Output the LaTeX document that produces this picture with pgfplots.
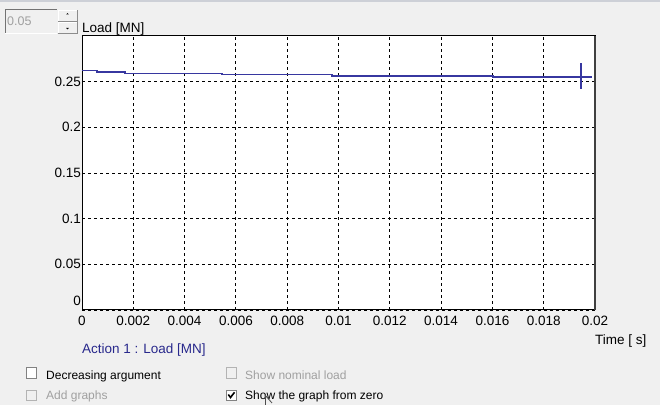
\documentclass[border=0pt]{standalone}
\usepackage{pgfplots}
\pgfplotsset{compat=1.18}
\usepackage{fontspec}
\setmainfont{Liberation Sans}
\definecolor{guibg}{RGB}{240,240,240}
\definecolor{plotblue}{RGB}{55,55,160}
\definecolor{navytext}{RGB}{40,40,140}
\definecolor{disgray}{RGB}{160,160,160}
\definecolor{boxgray}{RGB}{130,130,130}
\definecolor{topstrip}{RGB}{205,208,215}
\pgfplotstableread{
x y
0 0.2622
0.000585 0.2608
0.00168 0.2592
0.00546 0.2578
0.00975 0.2563
0.01602 0.2552
0.01988 0.2552
}\loadtable
\pgfplotstableread{
x y
0.01945 0.2422
0.01945 0.2700
}\cursortable
\begin{document}
\begin{tikzpicture}
\fill[guibg] (0,0) rectangle (660bp,405bp);
\begin{axis}[
  at={(82bp,95bp)}, anchor=south west,
  scale only axis, width=513bp, height=274bp,
  xmin=0, xmax=0.02, ymin=0, ymax=0.3,
  scaled x ticks=false, scaled y ticks=false,
  xtick={0,0.002,0.004,0.006,0.008,0.01,0.012,0.014,0.016,0.018,0.02},
  xticklabels={0,0.002,0.004,0.006,0.008,0.01,0.012,0.014,0.016,0.018,0.02},
  ytick={0,0.05,0.1,0.15,0.2,0.25},
  yticklabels={\raisebox{18bp}{0},0.05,0.1,0.15,0.2,0.25},
  major tick length=0pt,
  grid=major,
  major grid style={black, line width=0.9bp, dash pattern=on 3bp off 3bp},
  axis line style={black, line width=1bp},
  axis background/.style={fill=white},
  tick label style={font=\fontsize{13.5bp}{16bp}\selectfont},
  xticklabel style={yshift=-2.5bp},
  yticklabel style={inner xsep=1bp},
  /pgf/number format/assume math mode=true,
  clip=false,
]
\addplot[const plot, plotblue, line width=1.4bp] table[x=x,y=y] {\loadtable};
\addplot[plotblue, line width=1.4bp] table[x=x,y=y] {\cursortable};
\end{axis}
\begin{scope}[x=1bp, y=-1bp, shift={(0,405bp)}]
  % top strip
  \draw[line width=2bp, topstrip] (0,1) -- (660,1);
  % right frame darker
  \draw[line width=1.8bp, black!75] (595,36) -- (595,310);
  % spinner field
  \fill[guibg] (5,10) rectangle (57,34);
  \draw[line width=1bp, black!55] (5,34) -- (5,10) -- (57,10);
  \draw[line width=1bp, white] (5,34) -- (57,34);
  \node[anchor=base west, inner sep=0, text=disgray, font=\fontsize{12.5bp}{14bp}\selectfont] at (7,26) {0.05};
  % spinner buttons
  \fill[guibg] (58,10) rectangle (77,21);
  \draw[line width=0.8bp, black!45] (58,21) -- (77,21) -- (77,10);
  \draw[line width=0.8bp, white] (58,21) -- (58,10) -- (77,10);
  \fill[black] (66.2,14.5) -- (68.8,14.5) -- (67.5,13.2) -- cycle;
  \fill[guibg] (58,22) rectangle (77,33);
  \draw[line width=0.8bp, black!45] (58,33) -- (77,33) -- (77,22);
  \draw[line width=0.8bp, white] (58,33) -- (58,22) -- (77,22);
  \fill[black] (66.2,28) -- (68.8,28) -- (67.5,29.3) -- cycle;
  % labels
  \node[anchor=base west, inner sep=0, font=\fontsize{13.5bp}{16bp}\selectfont] at (82,33) {Load [MN]};
  \node[anchor=base west, inner sep=0, font=\fontsize{13.5bp}{16bp}\selectfont] at (595,345) {Time [ s]};
  \node[anchor=base west, inner sep=0, text=navytext, font=\fontsize{13.5bp}{16bp}\selectfont] at (82,354) {Action 1 : Load [MN]};
  % checkboxes
  \draw[boxgray, line width=0.9bp, fill=white] (26,367.5) rectangle (36.5,378);
  \node[anchor=base west, inner sep=0, font=\fontsize{12bp}{14bp}\selectfont] at (46,380) {Decreasing argument};
  \draw[disgray!80, line width=0.9bp, fill=guibg] (26,390) rectangle (36.5,400.5);
  \node[anchor=base west, inner sep=0, text=disgray, font=\fontsize{12bp}{14bp}\selectfont] at (46,400) {Add graphs};
  \draw[disgray!80, line width=0.9bp, fill=guibg] (226,367.5) rectangle (236.5,378);
  \node[anchor=base west, inner sep=0, text=disgray, font=\fontsize{12bp}{14bp}\selectfont] at (245,380) {Show nominal load};
  \draw[boxgray, line width=0.9bp, fill=white] (226,390) rectangle (236.5,400.5);
  \draw[black, line width=1.6bp] (228.3,394.5) -- (230.5,397.5) -- (234.5,392.3);
  \node[anchor=base west, inner sep=0, font=\fontsize{12bp}{14bp}\selectfont] at (245,400) {Show the graph from zero};
  % mouse pointer
  \draw[black!70, line width=0.8bp] (265,395) -- (265,405);
  \draw[black!70, line width=0.8bp] (265,395) -- (272,403);
\end{scope}
\pgfresetboundingbox
\useasboundingbox (0,0) rectangle (660bp,405bp);
\end{tikzpicture}
\end{document}
